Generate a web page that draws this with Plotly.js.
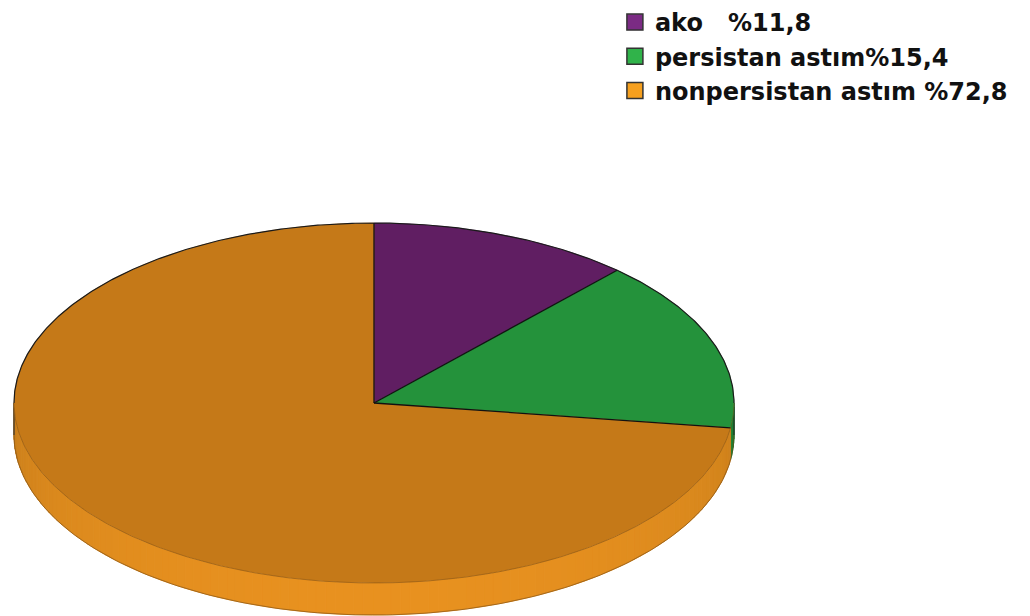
<!DOCTYPE html>
<html>
<head>
<meta charset="utf-8">
<script src="https://cdn.plot.ly/plotly-3.0.1.min.js"></script>
<style>html,body{margin:0;padding:0;background:#fff;}#chart{width:1030px;height:616px;}</style>
</head>
<body>
<div id="chart"></div>
<script>
// ---- data ----
const categories = ['ako\u00a0\u00a0\u00a0%11,8', 'persistan astım%15,4', 'nonpersistan astım %72,8'];
const values = [11.8, 15.4, 72.8];

// ---- style ----
const topColors = ['#601e62', '#24923b', '#c57918'];
const sideDark = ['#4a1650', '#1c7a30', '#c27a1a'];
const sideBright = ['#6a2470', '#24923b', '#e8911f'];
const legendColors = ['#7b2b84', '#30b34a', '#f6a01f'];
const cx = 374, cy = 403, rx = 360, ry = 180, depth = 32;

function pt(deg, dy) {
  const r = deg * Math.PI / 180;
  return [cx + rx * Math.sin(r), cy - ry * Math.cos(r) + dy];
}
function mix(a, b, t) {
  const pa = [1,3,5].map(i => parseInt(a.substr(i,2),16));
  const pb = [1,3,5].map(i => parseInt(b.substr(i,2),16));
  const c = pa.map((v,i) => Math.round(v + (pb[i]-v)*t));
  return 'rgb(' + c.join(',') + ')';
}
function arc(a0, a1, dy, step) {
  const xs = [], ys = [];
  const n = Math.max(2, Math.ceil(Math.abs(a1 - a0) / step));
  for (let j = 0; j <= n; j++) { const p = pt(a0 + (a1 - a0) * j / n, dy); xs.push(p[0]); ys.push(p[1]); }
  return [xs, ys];
}

const total = values.reduce((a,b)=>a+b,0);
const starts = [], ends = [];
let acc = 0;
values.forEach(v => { starts.push(acc/total*360); acc += v; ends.push(acc/total*360); });

const traces = [];
// side band (visible front half: 90..270 deg)
values.forEach((v, k) => {
  const a0 = Math.max(starts[k], 90), a1 = Math.min(ends[k], 270);
  if (a1 <= a0) return;
  const n = Math.max(1, Math.ceil((a1 - a0) / 1.5));
  for (let s = 0; s < n; s++) {
    const b0 = a0 + (a1 - a0) * s / n, b1 = a0 + (a1 - a0) * (s + 1) / n;
    const top = arc(b0, b1, 0, 0.5), bot = arc(b1, b0, depth, 0.5);
    const xs = top[0].concat(bot[0]), ys = top[1].concat(bot[1]);
    xs.push(xs[0]); ys.push(ys[0]);
    const mid = (b0 + b1) / 2;
    const t = Math.pow(Math.max(0, Math.sin((mid - 90) * Math.PI / 180)), 0.6);
    const col = mix(sideDark[k], sideBright[k], t);
    traces.push({x: xs, y: ys, mode: 'lines', fill: 'toself', fillcolor: col,
      line: {color: col, width: 1}, showlegend: false, hoverinfo: 'skip'});
  }
});
// bottom rim outline
(function(){
  const a = arc(90, 270, depth, 1);
  traces.push({x: a[0], y: a[1], mode: 'lines', line: {color: 'rgba(110,70,20,0.55)', width: 1},
    showlegend: false, hoverinfo: 'skip'});
  // right and left vertical edges
  const r0 = pt(90, 0), r1 = pt(90, depth), l0 = pt(270, 0), l1 = pt(270, depth);
  traces.push({x: [r0[0], r1[0]], y: [r0[1], r1[1]], mode: 'lines', line: {color: '#222', width: 1},
    showlegend: false, hoverinfo: 'skip'});
  traces.push({x: [l0[0], l1[0]], y: [l0[1], l1[1]], mode: 'lines', line: {color: '#333', width: 1.2},
    showlegend: false, hoverinfo: 'skip'});
})();
// top face slices (fill)
values.forEach((v, k) => {
  const a = arc(starts[k], ends[k], 0, 0.5);
  const xs = [cx].concat(a[0], [cx]), ys = [cy].concat(a[1], [cy]);
  traces.push({x: xs, y: ys, mode: 'lines', fill: 'toself', fillcolor: topColors[k],
    line: {color: topColors[k], width: 0.5}, showlegend: false, hoverinfo: 'skip'});
});
// top face outlines: radial edges and back arc black, front arc subtle
values.forEach((v, k) => {
  const p = pt(starts[k], 0);
  traces.push({x: [cx, p[0]], y: [cy, p[1]], mode: 'lines', line: {color: '#111', width: 1.3},
    showlegend: false, hoverinfo: 'skip'});
});
(function(){
  const back = arc(270, 450, 0, 0.5);
  traces.push({x: back[0], y: back[1], mode: 'lines', line: {color: '#1a1a1a', width: 1.2},
    showlegend: false, hoverinfo: 'skip'});
  const front = arc(90, 270, 0, 0.5);
  traces.push({x: front[0], y: front[1], mode: 'lines', line: {color: 'rgba(120,75,20,0.45)', width: 1},
    showlegend: false, hoverinfo: 'skip'});
})();
// legend entries
categories.forEach((c, k) => {
  traces.push({x: [null], y: [null], mode: 'markers', name: c,
    marker: {symbol: 'square', size: 16, color: legendColors[k], line: {color: '#333', width: 1.5}},
    showlegend: true, hoverinfo: 'skip'});
});

const layout = {
  width: 1030, height: 616,
  margin: {l: 0, r: 0, t: 0, b: 0},
  paper_bgcolor: '#ffffff', plot_bgcolor: '#ffffff',
  xaxis: {range: [0, 1030], visible: false, fixedrange: true},
  yaxis: {range: [616, 0], visible: false, fixedrange: true},
  showlegend: true,
  legend: {x: 0.597, xanchor: 'left', y: 1.0, yanchor: 'top', bgcolor: 'rgba(0,0,0,0)',
    font: {family: 'DejaVu Sans', size: 24, color: '#111', weight: 'bold'},
    traceorder: 'normal', itemclick: false, itemdoubleclick: false},
  hovermode: false
};
Plotly.newPlot('chart', traces, layout, {displayModeBar: false, staticPlot: true});
</script>
</body>
</html>
